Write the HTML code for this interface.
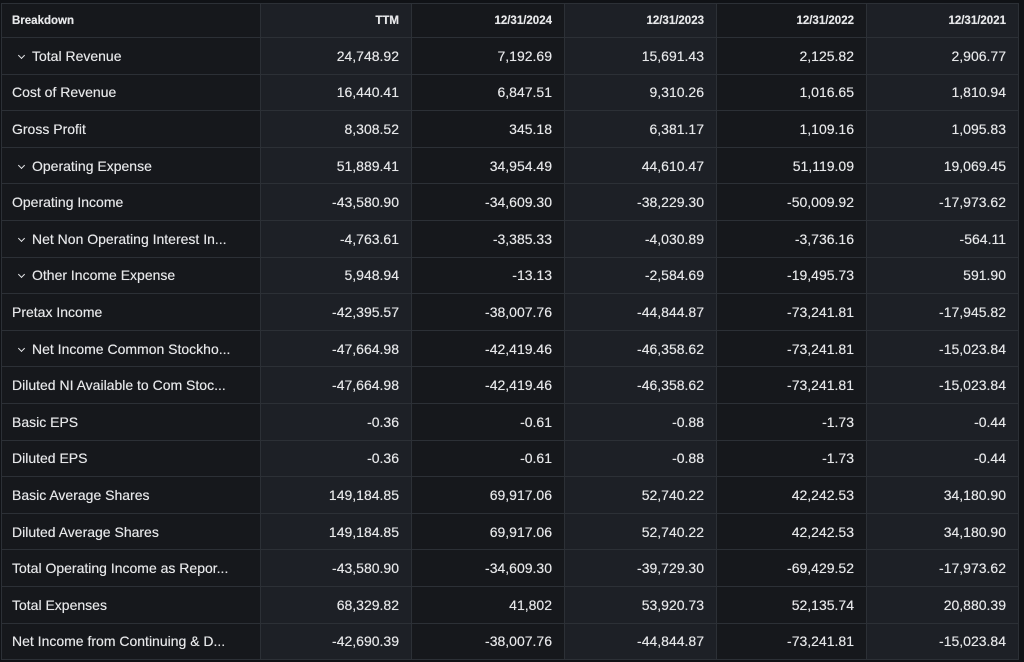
<!DOCTYPE html>
<html><head><meta charset="utf-8"><style>
body{margin:0;background:#101216;width:1024px;height:662px;overflow:hidden;font-family:"Liberation Sans",sans-serif;}
table{position:absolute;left:1px;top:3px;border-collapse:collapse;table-layout:fixed;width:1017px;}
td,th{border:1px solid #2c3036;color:#e6e7e9;font-size:14px;padding:0 12px 0 10px;white-space:nowrap;overflow:hidden;text-align:right;height:35.6px;text-shadow:0 0 0.4px #e6e7e9;}
th{font-size:11.5px;font-weight:bold;height:33px;}
td:first-child,th:first-child{text-align:left;}
tr>*:nth-child(odd){background:#16181c;}
tr>*:nth-child(even){background:#1d2026;}
.c{padding-left:17px;}
.c i{display:inline-block;width:4px;height:4px;border-right:1.3px solid #e6e7e9;border-bottom:1.3px solid #e6e7e9;transform:rotate(45deg);margin:0 8px 3px 0;}
</style></head><body>
<table>
<colgroup><col style="width:259px"><col style="width:151px"><col style="width:153px"><col style="width:152px"><col style="width:150px"><col style="width:152px"></colgroup>
<tr><th>Breakdown</th><th>TTM</th><th>12/31/2024</th><th>12/31/2023</th><th>12/31/2022</th><th>12/31/2021</th></tr>
<tr><td class="c"><i></i>Total Revenue</td><td>24,748.92</td><td>7,192.69</td><td>15,691.43</td><td>2,125.82</td><td>2,906.77</td></tr>
<tr><td>Cost of Revenue</td><td>16,440.41</td><td>6,847.51</td><td>9,310.26</td><td>1,016.65</td><td>1,810.94</td></tr>
<tr><td>Gross Profit</td><td>8,308.52</td><td>345.18</td><td>6,381.17</td><td>1,109.16</td><td>1,095.83</td></tr>
<tr><td class="c"><i></i>Operating Expense</td><td>51,889.41</td><td>34,954.49</td><td>44,610.47</td><td>51,119.09</td><td>19,069.45</td></tr>
<tr><td>Operating Income</td><td>-43,580.90</td><td>-34,609.30</td><td>-38,229.30</td><td>-50,009.92</td><td>-17,973.62</td></tr>
<tr><td class="c"><i></i>Net Non Operating Interest In...</td><td>-4,763.61</td><td>-3,385.33</td><td>-4,030.89</td><td>-3,736.16</td><td>-564.11</td></tr>
<tr><td class="c"><i></i>Other Income Expense</td><td>5,948.94</td><td>-13.13</td><td>-2,584.69</td><td>-19,495.73</td><td>591.90</td></tr>
<tr><td>Pretax Income</td><td>-42,395.57</td><td>-38,007.76</td><td>-44,844.87</td><td>-73,241.81</td><td>-17,945.82</td></tr>
<tr><td class="c"><i></i>Net Income Common Stockho...</td><td>-47,664.98</td><td>-42,419.46</td><td>-46,358.62</td><td>-73,241.81</td><td>-15,023.84</td></tr>
<tr><td>Diluted NI Available to Com Stoc...</td><td>-47,664.98</td><td>-42,419.46</td><td>-46,358.62</td><td>-73,241.81</td><td>-15,023.84</td></tr>
<tr><td>Basic EPS</td><td>-0.36</td><td>-0.61</td><td>-0.88</td><td>-1.73</td><td>-0.44</td></tr>
<tr><td>Diluted EPS</td><td>-0.36</td><td>-0.61</td><td>-0.88</td><td>-1.73</td><td>-0.44</td></tr>
<tr><td>Basic Average Shares</td><td>149,184.85</td><td>69,917.06</td><td>52,740.22</td><td>42,242.53</td><td>34,180.90</td></tr>
<tr><td>Diluted Average Shares</td><td>149,184.85</td><td>69,917.06</td><td>52,740.22</td><td>42,242.53</td><td>34,180.90</td></tr>
<tr><td>Total Operating Income as Repor...</td><td>-43,580.90</td><td>-34,609.30</td><td>-39,729.30</td><td>-69,429.52</td><td>-17,973.62</td></tr>
<tr><td>Total Expenses</td><td>68,329.82</td><td>41,802</td><td>53,920.73</td><td>52,135.74</td><td>20,880.39</td></tr>
<tr><td>Net Income from Continuing &amp; D...</td><td>-42,690.39</td><td>-38,007.76</td><td>-44,844.87</td><td>-73,241.81</td><td>-15,023.84</td></tr>
</table>
</body></html>
